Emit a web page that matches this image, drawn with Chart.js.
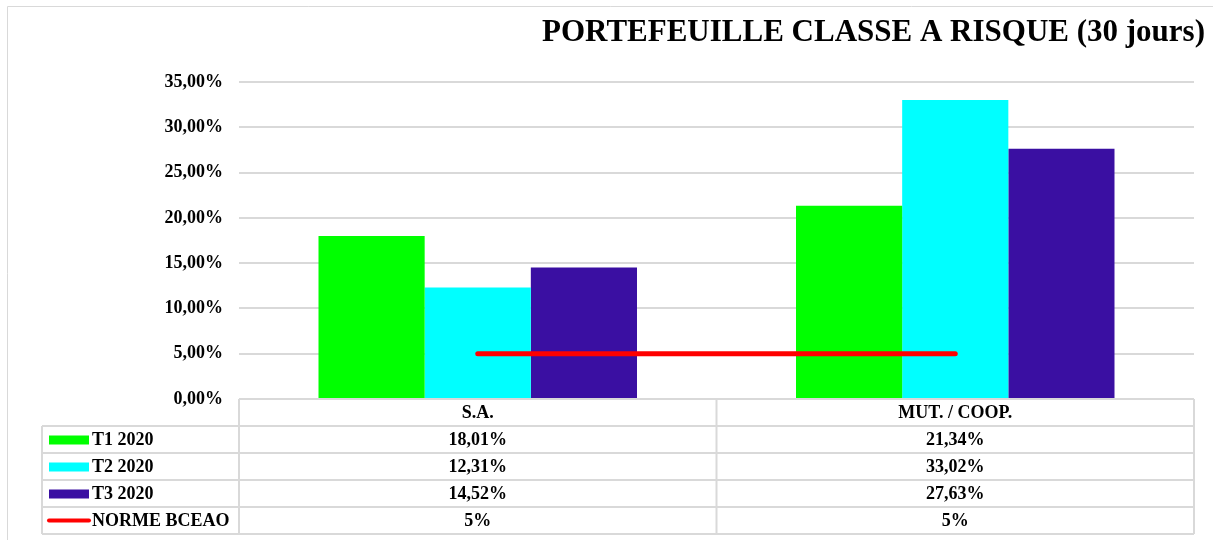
<!DOCTYPE html>
<html>
<head>
<meta charset="utf-8">
<script src="https://cdn.jsdelivr.net/npm/chart.js@4/dist/chart.umd.min.js"></script>
<style>
  html, body { margin: 0; padding: 0; background: #fff; }
  #wrap { width: 1213px; height: 540px; position: relative; }
</style>
</head>
<body>
<div id="wrap"><canvas id="chart1"></canvas></div>
<script>
const categories = ["S.A.", "MUT. / COOP."];
const t1_2020 = [18.01, 21.34];
const t2_2020 = [12.31, 33.02];
const t3_2020 = [14.52, 27.63];
const normeBceao = [5, 5];
const seriesNames = ["T1 2020", "T2 2020", "T3 2020", "NORME BCEAO"];

const FONT = "'Liberation Serif', 'Times New Roman', serif";
const gridColor = "#d9d9d9";

const fmtPct = (v) => v.toFixed(2).replace(".", ",") + "%";
const fmtCell = (v) => (Number.isInteger(v) ? v + "%" : fmtPct(v));

// title, outer frame and data table under the plot
const tablePlugin = {
    id: "dataTable",
    afterDraw(chart) {
        const ctx = chart.ctx;
        const area = chart.chartArea;
        const x = chart.scales.x;
        const rowH = 27;
        const top = area.bottom;
        const legendLeft = 42;
        const mid = (x.getPixelForValue(0) + x.getPixelForValue(1)) / 2;
        const cols = [area.left, mid, area.right];

        ctx.save();
        // outer frame
        ctx.strokeStyle = gridColor;
        ctx.lineWidth = 1;
        ctx.beginPath();
        ctx.moveTo(7.5, chart.height);
        ctx.lineTo(7.5, 6.5);
        ctx.lineTo(chart.width, 6.5);
        ctx.stroke();

        // title
        ctx.fillStyle = "#000";
        ctx.font = "bold 31px " + FONT;
        ctx.textAlign = "right";
        ctx.textBaseline = "middle";
        ctx.fillText("PORTEFEUILLE CLASSE A RISQUE (30 jours)", 1205, 33);

        // grid of the table
        ctx.lineWidth = 2;
        ctx.strokeStyle = gridColor;
        ctx.beginPath();
        ctx.moveTo(area.left, top);
        ctx.lineTo(area.right, top);
        for (let r = 1; r <= 5; r++) {
            const y = top + r * rowH;
            ctx.moveTo(legendLeft, y);
            ctx.lineTo(area.right, y);
        }
        cols.forEach((cx) => {
            ctx.moveTo(cx, top);
            ctx.lineTo(cx, top + 5 * rowH);
        });
        ctx.moveTo(legendLeft, top + rowH);
        ctx.lineTo(legendLeft, top + 5 * rowH);
        ctx.stroke();

        // header row
        ctx.font = "bold 18px " + FONT;
        ctx.textAlign = "center";
        ctx.fillStyle = "#000";
        categories.forEach((c, i) => {
            ctx.fillText(c, x.getPixelForValue(i), top + rowH / 2 + 1);
        });

        // rows with legend keys
        const series = [t1_2020, t2_2020, t3_2020, normeBceao];
        chart.data.datasets.forEach((ds, r) => {
            const yc = top + (r + 1) * rowH + rowH / 2;
            if (ds.type === "line") {
                ctx.strokeStyle = ds.borderColor;
                ctx.lineWidth = 4;
                ctx.lineCap = "round";
                ctx.beginPath();
                ctx.moveTo(49, yc);
                ctx.lineTo(89, yc);
                ctx.stroke();
            } else {
                ctx.fillStyle = ds.backgroundColor;
                ctx.fillRect(49, yc - 4, 40, 9);
            }
            ctx.fillStyle = "#000";
            ctx.textAlign = "left";
            ctx.fillText(seriesNames[r], 92, yc + 1);
            ctx.textAlign = "center";
            series[r].forEach((v, i) => {
                ctx.fillText(fmtCell(v), x.getPixelForValue(i), yc + 1);
            });
        });
        ctx.restore();
    },
};

const barOpts = { barPercentage: 1, categoryPercentage: 0.667, order: 1 };

new Chart(document.getElementById("chart1"), {
    type: "bar",
    data: {
        labels: categories,
        datasets: [
            { label: seriesNames[0], data: t1_2020, backgroundColor: "#00ff00", ...barOpts },
            { label: seriesNames[1], data: t2_2020, backgroundColor: "#00ffff", ...barOpts },
            { label: seriesNames[2], data: t3_2020, backgroundColor: "#3a0fa2", ...barOpts },
            {
                type: "line",
                label: seriesNames[3],
                data: normeBceao,
                borderColor: "#ff0000",
                borderWidth: 5,
                borderCapStyle: "round",
                pointRadius: 0,
                order: 0,
            },
        ],
    },
    options: {
        responsive: true,
        maintainAspectRatio: false,
        animation: false,
        layout: {
            padding: { top: 82, bottom: 141, left: 0, right: 19 },
        },
        plugins: {
            legend: { display: false },
            tooltip: { enabled: false },
        },
        scales: {
            x: { display: false },
            y: {
                min: 0,
                max: 35,
                afterFit: (scale) => { scale.width = 239; },
                border: { display: false },
                grid: { color: gridColor, lineWidth: 2, drawTicks: false },
                ticks: {
                    stepSize: 5,
                    padding: 16,
                    color: "#000",
                    font: { family: FONT, size: 18, weight: "bold" },
                    callback: (v) => fmtPct(v),
                },
            },
        },
    },
    plugins: [tablePlugin],
});
</script>
</body>
</html>
